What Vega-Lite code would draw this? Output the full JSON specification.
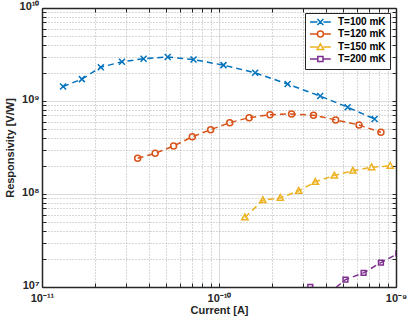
{
  "$schema": "https://vega.github.io/schema/vega-lite/v6.json",
  "width": 354,
  "height": 279,
  "autosize": "none",
  "padding": {"left": 42, "top": 8, "right": 11, "bottom": 34},
  "background": "white",
  "config": {
    "view": {"stroke": null},
    "font": "Liberation Sans"
  },
  "data": {
    "values": [
      {"T": "T=100 mK", "I": 1.315e-11, "R": 1.43e9},
      {"T": "T=100 mK", "I": 1.68e-11, "R": 1.72e9},
      {"T": "T=100 mK", "I": 2.15e-11, "R": 2.31e9},
      {"T": "T=100 mK", "I": 2.83e-11, "R": 2.64e9},
      {"T": "T=100 mK", "I": 3.75e-11, "R": 2.85e9},
      {"T": "T=100 mK", "I": 5.13e-11, "R": 2.97e9},
      {"T": "T=100 mK", "I": 7.18e-11, "R": 2.79e9},
      {"T": "T=100 mK", "I": 1.06e-10, "R": 2.43e9},
      {"T": "T=100 mK", "I": 1.60e-10, "R": 2.01e9},
      {"T": "T=100 mK", "I": 2.44e-10, "R": 1.52e9},
      {"T": "T=100 mK", "I": 3.73e-10, "R": 1.13e9},
      {"T": "T=100 mK", "I": 5.33e-10, "R": 8.57e8},
      {"T": "T=100 mK", "I": 7.57e-10, "R": 6.41e8},
      {"T": "T=120 mK", "I": 3.47e-11, "R": 2.42e8},
      {"T": "T=120 mK", "I": 4.36e-11, "R": 2.74e8},
      {"T": "T=120 mK", "I": 5.54e-11, "R": 3.28e8},
      {"T": "T=120 mK", "I": 7.07e-11, "R": 4.13e8},
      {"T": "T=120 mK", "I": 8.97e-11, "R": 4.92e8},
      {"T": "T=120 mK", "I": 1.15e-10, "R": 5.85e8},
      {"T": "T=120 mK", "I": 1.48e-10, "R": 6.62e8},
      {"T": "T=120 mK", "I": 1.94e-10, "R": 7.13e8},
      {"T": "T=120 mK", "I": 2.57e-10, "R": 7.26e8},
      {"T": "T=120 mK", "I": 3.42e-10, "R": 7.03e8},
      {"T": "T=120 mK", "I": 4.56e-10, "R": 6.26e8},
      {"T": "T=120 mK", "I": 6.18e-10, "R": 5.52e8},
      {"T": "T=120 mK", "I": 8.22e-10, "R": 4.61e8},
      {"T": "T=150 mK", "I": 1.40e-10, "R": 5.60e7},
      {"T": "T=150 mK", "I": 1.77e-10, "R": 8.59e7},
      {"T": "T=150 mK", "I": 2.22e-10, "R": 9.1e7},
      {"T": "T=150 mK", "I": 2.82e-10, "R": 1.08e8},
      {"T": "T=150 mK", "I": 3.50e-10, "R": 1.35e8},
      {"T": "T=150 mK", "I": 4.48e-10, "R": 1.58e8},
      {"T": "T=150 mK", "I": 5.71e-10, "R": 1.78e8},
      {"T": "T=150 mK", "I": 7.28e-10, "R": 1.94e8},
      {"T": "T=150 mK", "I": 9.28e-10, "R": 2.01e8},
      {"T": "T=200 mK", "I": 3.28e-10, "R": 1.0e7},
      {"T": "T=200 mK", "I": 4.10e-10, "R": 8.3e6},
      {"T": "T=200 mK", "I": 5.18e-10, "R": 1.20e7},
      {"T": "T=200 mK", "I": 6.56e-10, "R": 1.42e7},
      {"T": "T=200 mK", "I": 8.22e-10, "R": 1.83e7},
      {"T": "T=200 mK", "I": 1.03e-9, "R": 2.3e7}
    ]
  },
  "resolve": {"axis": {"x": "independent", "y": "independent"}},
  "layer": [
    {
      "mark": {"type": "line", "strokeDash": [6, 4], "strokeWidth": 1.5, "clip": true},
      "encoding": {
        "x": {
          "field": "I", "type": "quantitative",
          "scale": {"type": "log", "domain": [1e-11, 1e-9], "nice": false},
          "axis": {
            "orient": "bottom",
            "values": [1e-11, 2e-11, 3e-11, 4e-11, 5e-11, 6e-11, 7e-11, 8e-11, 9e-11, 1e-10, 2e-10, 3e-10, 4e-10, 5e-10, 6e-10, 7e-10, 8e-10, 9e-10, 1e-9],
            "labelExpr": "datum.value < 1.5e-11 ? '10⁻¹¹' : (abs(datum.value - 1e-10) < 1e-12 ? '10⁻¹⁰' : (datum.value > 0.95e-9 ? '10⁻⁹' : ''))",
            "labelOverlap": false,
            "labelFontSize": 11,
            "labelFontWeight": "bold",
            "labelColor": "#262626",
            "labelPadding": 9,
            "labelFlush": false,
            "tickSize": -4,
            "tickColor": "#262626",
            "tickWidth": 1,
            "domainColor": "#262626",
            "domainWidth": 1.5,
            "grid": true,
            "gridColor": {"condition": {"test": "abs(log(datum.value)/LN10 - round(log(datum.value)/LN10)) < 0.001", "value": "#dcdcdc"}, "value": "#b0b0b0"},
            "gridDash": {"condition": {"test": "abs(log(datum.value)/LN10 - round(log(datum.value)/LN10)) < 0.001", "value": []}, "value": [1, 2]},
            "gridWidth": 1,
            "title": "Current [A]",
            "titleFontSize": 11,
            "titleFontWeight": "bold",
            "titleColor": "#262626",
            "titlePadding": 1
          }
        },
        "y": {
          "field": "R", "type": "quantitative",
          "scale": {"type": "log", "domain": [1e7, 1e10], "nice": false},
          "axis": {
            "orient": "left",
            "values": [1e7, 2e7, 3e7, 4e7, 5e7, 6e7, 7e7, 8e7, 9e7, 1e8, 2e8, 3e8, 4e8, 5e8, 6e8, 7e8, 8e8, 9e8, 1e9, 2e9, 3e9, 4e9, 5e9, 6e9, 7e9, 8e9, 9e9, 1e10],
            "labelExpr": "datum.value < 1.5e7 ? '10⁷' : (abs(datum.value - 1e8) < 1 ? '10⁸' : (abs(datum.value - 1e9) < 1 ? '10⁹' : (datum.value > 9.5e9 ? '10¹⁰' : '')))",
            "labelOverlap": false,
            "labelFontSize": 11,
            "labelFontWeight": "bold",
            "labelColor": "#262626",
            "labelPadding": 7,
            "labelOffset": -1.5,
            "labelFlush": false,
            "tickSize": -4,
            "tickColor": "#262626",
            "domainColor": "#262626",
            "domainWidth": 1.5,
            "grid": true,
            "gridColor": {"condition": {"test": "abs(log(datum.value)/LN10 - round(log(datum.value)/LN10)) < 0.001", "value": "#dcdcdc"}, "value": "#b0b0b0"},
            "gridDash": {"condition": {"test": "abs(log(datum.value)/LN10 - round(log(datum.value)/LN10)) < 0.001", "value": []}, "value": [1, 2]},
            "gridWidth": 1,
            "title": "Responsivity [V/W]",
            "titleFontSize": 11,
            "titleFontWeight": "bold",
            "titleColor": "#262626",
            "titlePadding": 4
          }
        },
        "color": {
          "field": "T", "type": "nominal",
          "scale": {"domain": ["T=100 mK", "T=120 mK", "T=150 mK", "T=200 mK"], "range": ["#0072BD", "#D95319", "#EDB120", "#7E2F8E"]},
          "legend": {
            "orient": "none",
            "legendX": 263,
            "legendY": 5,
            "title": null,
            "fillColor": "white",
            "strokeColor": "#262626",
            "padding": 4,
            "labelFontSize": 10,
            "labelFontWeight": "bold",
            "labelColor": "black",
            "labelOffset": 19,
            "symbolSize": 64,
            "rowPadding": 0,
            "symbolStrokeWidth": 1.5,
            "encode": {
              "symbols": {
                "update": {
                  "shape": {"signal": "datum.value === 'T=100 mK' ? 'M-1,0H0.85M2.35,0H4.2M0.85,-0.75L2.35,0.75M0.85,0.75L2.35,-0.75' : (datum.value === 'T=120 mK' ? 'M-1,0H0.85M2.35,0H4.2M2.35,0A0.75,0.75 0 1,1 0.85,0A0.75,0.75 0 1,1 2.35,0' : (datum.value === 'T=150 mK' ? 'M-1,0H0.85M2.35,0H4.2M1.6,-0.8L2.4,0.6L0.8,0.6Z' : 'M-1,0H0.95M2.25,0H4.2M0.95,-0.65H2.25V0.65H0.95Z'))"},
                  "fill": {"value": "transparent"},
                  "stroke": {"scale": "color", "field": "value"},
                  "strokeDash": {"value": []},
                  "strokeWidth": {"value": 1.5}
                }
              }
            }
          }
        }
      }
    },
    {
      "mark": {"type": "point", "filled": false, "strokeWidth": 1.5, "size": 36, "clip": true, "opacity": 1},
      "encoding": {
        "x": {
          "field": "I", "type": "quantitative",
          "scale": {"type": "log", "domain": [1e-11, 1e-9], "nice": false},
          "axis": {
            "orient": "top",
            "values": [1e-11, 2e-11, 3e-11, 4e-11, 5e-11, 6e-11, 7e-11, 8e-11, 9e-11, 1e-10, 2e-10, 3e-10, 4e-10, 5e-10, 6e-10, 7e-10, 8e-10, 9e-10, 1e-9],
            "labels": false,
            "grid": false,
            "tickSize": -4,
            "tickColor": "#262626",
            "domainColor": "#262626",
            "domainWidth": 1.5,
            "title": null
          }
        },
        "y": {
          "field": "R", "type": "quantitative",
          "scale": {"type": "log", "domain": [1e7, 1e10], "nice": false},
          "axis": {
            "orient": "right",
            "values": [1e7, 2e7, 3e7, 4e7, 5e7, 6e7, 7e7, 8e7, 9e7, 1e8, 2e8, 3e8, 4e8, 5e8, 6e8, 7e8, 8e8, 9e8, 1e9, 2e9, 3e9, 4e9, 5e9, 6e9, 7e9, 8e9, 9e9, 1e10],
            "labels": false,
            "grid": false,
            "tickSize": -4,
            "tickColor": "#262626",
            "domainColor": "#262626",
            "domainWidth": 1.5,
            "title": null
          }
        },
        "color": {"field": "T", "type": "nominal", "scale": {"domain": ["T=100 mK", "T=120 mK", "T=150 mK", "T=200 mK"], "range": ["#0072BD", "#D95319", "#EDB120", "#7E2F8E"]}},
        "shape": {
          "condition": [
            {"test": "datum.T === 'T=100 mK'", "value": "M-1,-1L1,1M-1,1L1,-1"},
            {"test": "datum.T === 'T=120 mK'", "value": "circle"},
            {"test": "datum.T === 'T=150 mK'", "value": "M0,-1.1L1.05,0.8L-1.05,0.8Z"}
          ],
          "value": "M-0.8,-0.8H0.8V0.8H-0.8Z"
        }
      }
    }
  ]
}
